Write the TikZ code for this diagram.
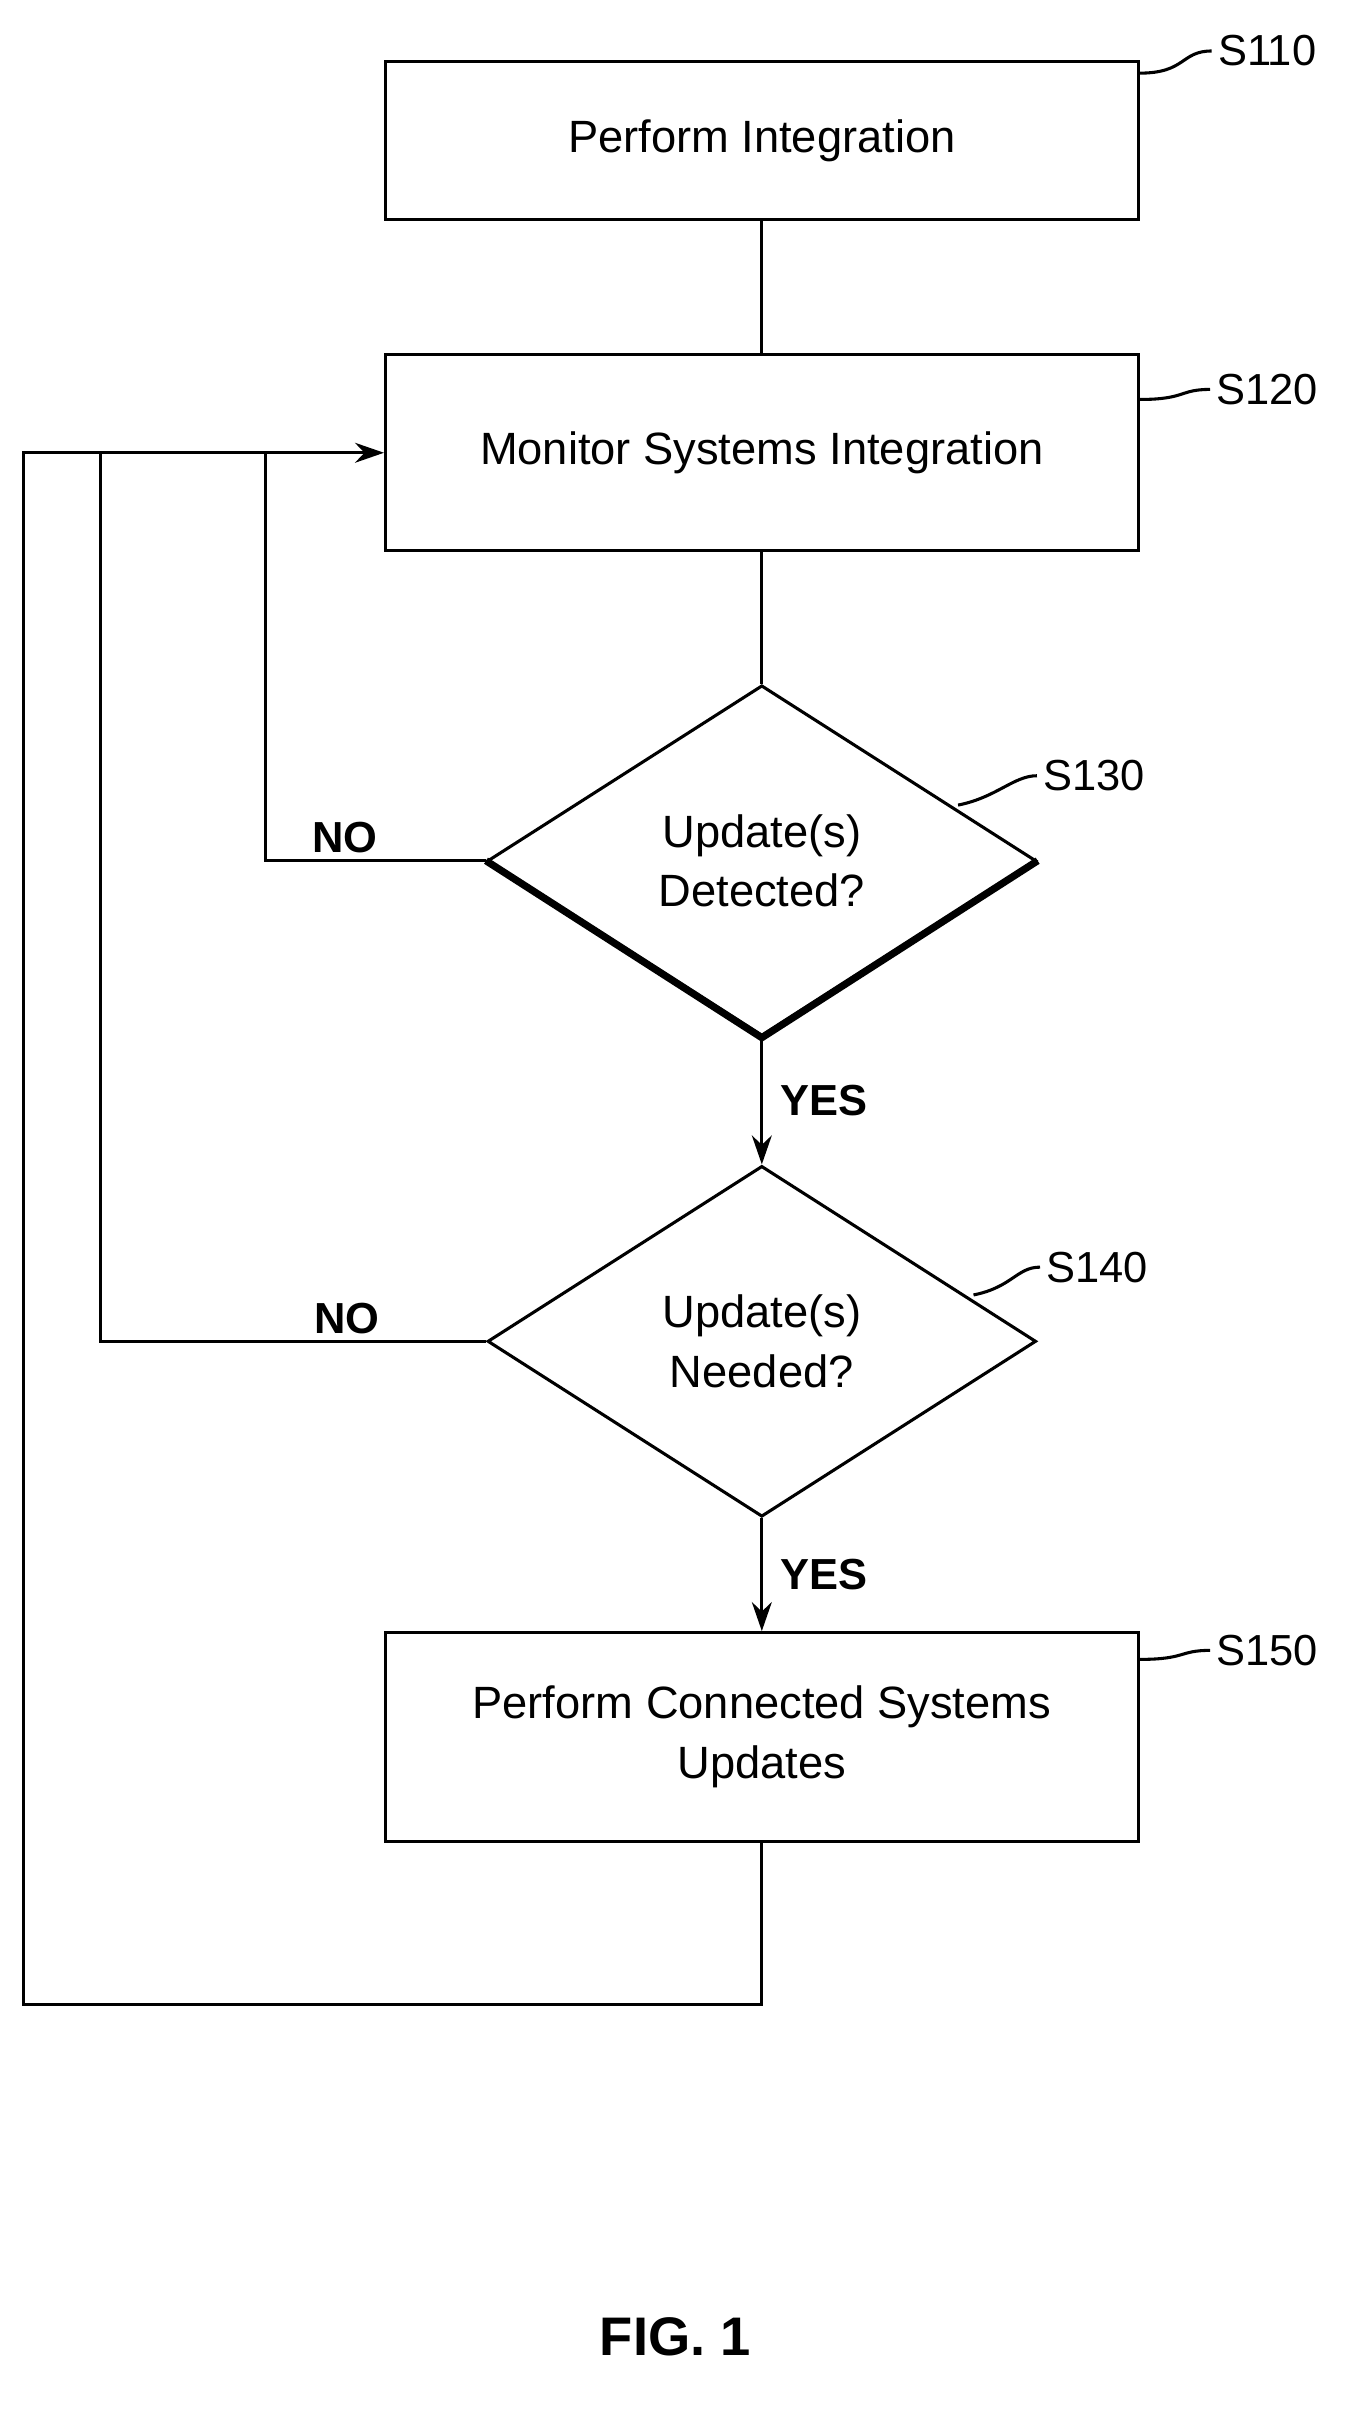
\documentclass[tikz,border=0pt]{standalone}
\usepackage{fontspec}
\setmainfont{Liberation Sans}
\usetikzlibrary{arrows.meta,shapes.geometric,positioning}
\begin{document}
\begin{tikzpicture}[x=0.03cm,y=-0.03cm,
process/.style={rectangle, draw=black, line width=1.7pt, minimum width=14.61cm,
font=\fontsize{25}{33}\selectfont, align=center},
%
test/.style={diamond, draw=black, line width=1.7pt, aspect=1.56, inner sep=0pt,
minimum width=10.65cm, minimum height=6.81cm, font=\fontsize{25}{33}\selectfont, align=center},
%
tag/.style={font=\fontsize{24}{28}\selectfont},
%
answer/.style={font=\bfseries\fontsize{24}{28}\selectfont},
%
flow/.style={line width=1.7pt, -{Stealth[length=16pt,width=11pt]}}]

\useasboundingbox (0,0) rectangle (873,1568);

% boxes
\node[process, minimum height=3.06cm] (integ) at (493,91) {Perform Integration};
\node[process, minimum height=3.81cm] (monitor) at (493,293) {Monitor Systems Integration};
\node[test] (detect) at (493,557) {Update(s)\\Detected?};
\node[test] (need) at (493,868) {Update(s)\\Needed?};
\node[process, minimum height=4.05cm] (update) at (493,1124) {Perform Connected Systems\\Updates};

% heavy lower edges
\draw[line width=4pt] (detect.west) -- (detect.south) -- (detect.east);

% tags
\node[tag] (t110) at (820,33) {S110};
\node[tag] (t120) at (820,252) {S120};
\node[tag] (t130) at (708,502) {S130};
\node[tag] (t140) at (710,820) {S140};
\node[tag] (t150) at (820,1068) {S150};

\begin{scope}[line width=1.7pt]
  \draw ([yshift=-0.25cm]integ.north east) .. controls +(30,0) and +(-20,0) .. (t110.west);
  \draw ([yshift=-0.9cm]monitor.north east) .. controls +(30,0) and +(-20,0) .. (t120.west);
  \draw (620,521) .. controls +(25,-5) and +(-15,0) .. (t130.west);
  \draw (630,838) .. controls +(25,-5) and +(-15,0) .. (t140.west);
  \draw ([yshift=-0.55cm]update.north east) .. controls +(30,0) and +(-20,0) .. (t150.west);
\end{scope}

% connectors
\coordinate (back) at (monitor.west);
\draw[line width=1.7pt] (integ) -- (monitor);
\draw[line width=1.7pt] (monitor) -- (detect.north);
\draw[flow] (detect.south) -- node[answer, right=6pt] {YES} (need.north);
\draw[flow] (need.south) -- node[answer, right=6pt] {YES} (update.north);
\draw[line width=1.7pt] (detect.west) -- node[answer, above, pos=0.64] {NO} (172,557) -- (172,293);
\draw[line width=1.7pt] (need.west) -- node[answer, above, pos=0.36] {NO} (65,868) -- (65,293);
\draw[flow] (update.south) -- (493,1297) -- (15,1297) -- (15,293) -- (back);

\node[answer, font=\bfseries\fontsize{30}{34}\selectfont] (fig) at (437,1512) {FIG. 1};

\end{tikzpicture}
\end{document}
